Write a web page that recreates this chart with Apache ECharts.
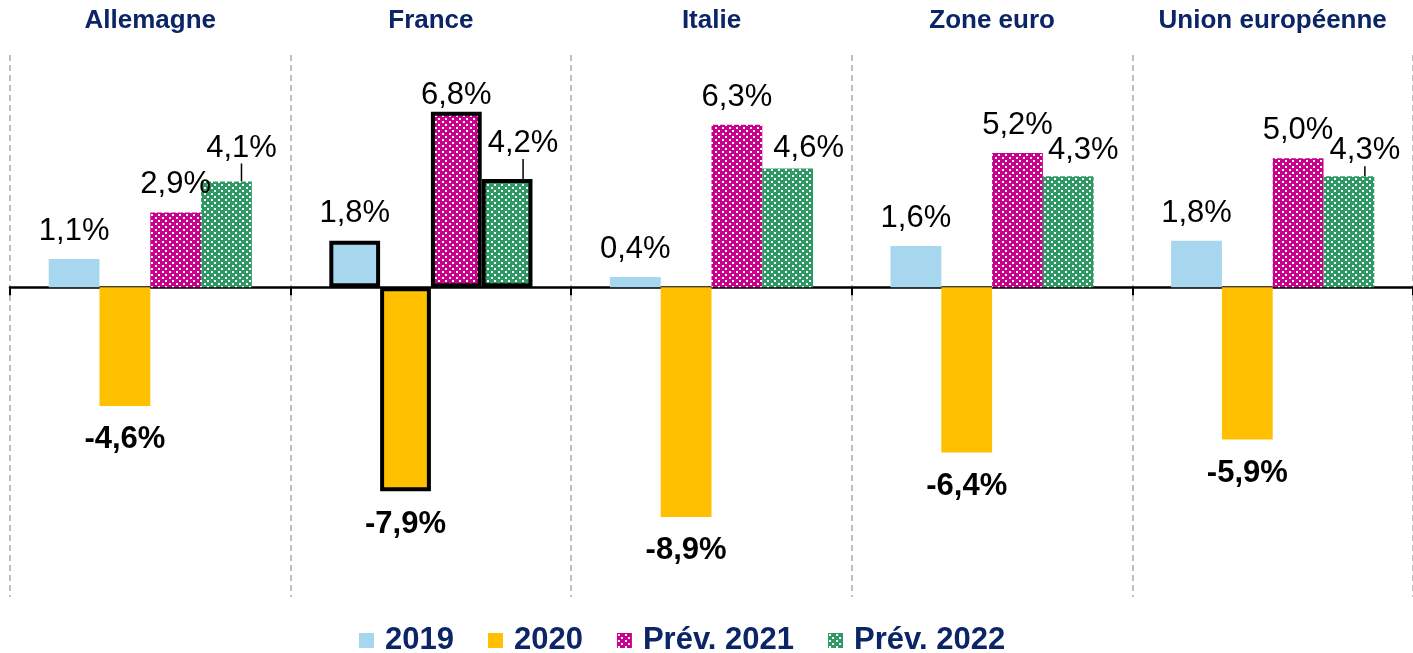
<!DOCTYPE html>
<html><head><meta charset="utf-8">
<script src="https://cdn.jsdelivr.net/npm/echarts@6/dist/echarts.min.js"></script>
<style>html,body{margin:0;padding:0;background:#fff}#c{width:1413px;height:653px}</style>
</head><body><div id="c"></div>
<script>
const categories = ['Allemagne', 'France', 'Italie', 'Zone euro', 'Union européenne'];
const seriesNames = ['2019', '2020', 'Prév. 2021', 'Prév. 2022'];
const v2019 = [1.1, 1.8, 0.4, 1.6, 1.8];
const v2020 = [-4.6, -7.9, -8.9, -6.4, -5.9];
const v2021 = [2.9, 6.8, 6.3, 5.2, 5.0];
const v2022 = [4.1, 4.2, 4.6, 4.3, 4.3];
const highlighted = 'France';

function fmt(v) { return v.toFixed(1).replace('.', ',') + '%'; }

function pattern(bg) {
  const c = document.createElement('canvas');
  c.width = 7; c.height = 6;
  const g = c.getContext('2d');
  g.fillStyle = bg; g.fillRect(0, 0, 7, 6);
  g.fillStyle = '#ffffff';
  g.fillRect(1, 1, 2, 2);
  g.fillRect(4, 4, 2, 2);
  return { image: c, repeat: 'repeat' };
}

const colors = ['#a6d7ee', '#ffc000', pattern('#c8008c'), pattern('#2e9965')];
const values = [v2019, v2020, v2021, v2022];
const FONT = 'Liberation Sans, Arial, sans-serif';

// label displacement (style only)
const shift2021 = [[0, 0], [0, 11], [0, 0], [0, 0], [0, 0]];
const shift2022 = [[15, -6], [16, -8], [21, 7], [15, 2], [16, 2]];
const leader2022 = [true, true, false, false, true];

const series = values.map((arr, si) => ({
  name: seriesNames[si],
  type: 'bar',
  barGap: '0%',
  barCategoryGap: '27.6%',
  itemStyle: { color: colors[si] },
  label: {
    show: true,
    position: si === 1 ? 'bottom' : 'top',
    distance: si === 1 ? 18 : 12,
    fontFamily: FONT,
    fontSize: 31,
    fontWeight: si === 1 ? 'bold' : 'normal',
    color: '#000',
    formatter: p => fmt(p.value)
  },
  labelLayout: si === 2 ? (p => ({ dx: shift2021[p.dataIndex][0], dy: shift2021[p.dataIndex][1] }))
             : si === 3 ? (p => ({ dx: shift2022[p.dataIndex][0], dy: shift2022[p.dataIndex][1] }))
             : undefined,
  labelLine: si === 3 ? { show: true, lineStyle: { color: '#000', width: 1.5 } } : undefined,
  data: arr.map((v, i) => {
    const d = { value: v };
    if (categories[i] === highlighted) d.itemStyle = { borderColor: '#000', borderWidth: 4 };
    if (si === 3) d.labelLine = { show: leader2022[i] };
    return d;
  })
}));

const chart = echarts.init(document.getElementById('c'));
chart.setOption({
  animation: false,
  textStyle: { fontFamily: FONT },
  legend: {
    top: 620,
    left: 354,
    itemWidth: 15,
    itemHeight: 15,
    itemGap: 34,
    icon: 'rect',
    textStyle: { fontFamily: FONT, fontSize: 31, fontWeight: 'bold', color: '#0b2566', padding: [0, 0, 0, 6] },
    data: seriesNames
  },
  grid: { left: 10, top: 55, width: 1409, bottom: 56 },
  xAxis: [{
    type: 'category',
    data: categories,
    position: 'top',
    axisLine: { show: false, onZero: false },
    axisTick: { show: false },
    axisLabel: { interval: 0, margin: 21, fontFamily: FONT, fontSize: 26, fontWeight: 'bold', color: '#0b2566' },
    splitLine: { show: true, interval: 0, lineStyle: { color: '#bfbfbf', width: 2, type: [6, 4] } }
  }, {
    type: 'category',
    data: categories,
    position: 'bottom',
    axisLine: { show: true, onZero: true, lineStyle: { color: '#000', width: 2.5 } },
    axisTick: { show: true, interval: 0, length: 8, lineStyle: { color: '#000', width: 2 } },
    axisLabel: { show: false },
    splitLine: { show: false }
  }],
  yAxis: { type: 'value', min: -12, max: 9, show: false, splitLine: { show: false } },
  series: series
});
</script></body></html>
